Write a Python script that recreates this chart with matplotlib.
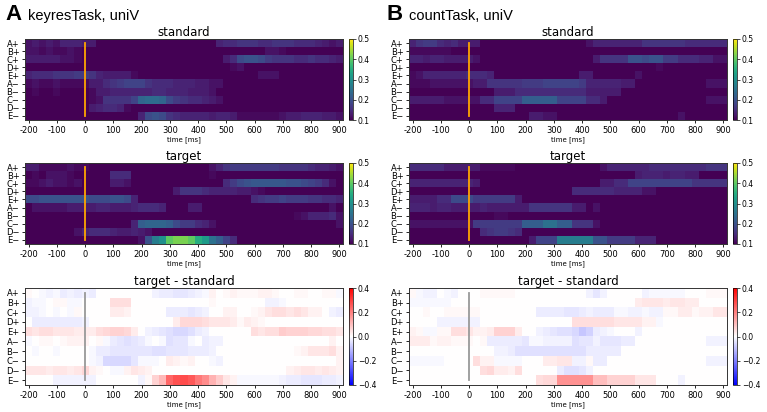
import numpy as np
import matplotlib
matplotlib.use("Agg")
import matplotlib.pyplot as plt

# conditions (rows) and time bins (25 ms, centres -200..900)
conds = ["A+", "B+", "C+", "D+", "E+", "A\u2212", "B\u2212", "C\u2212", "D\u2212", "E\u2212"]
t_first, t_last, t_step = -200, 900, 25

# mean values per condition and time bin, in hundredths
# (values under 10 look identical in the viridis maps, but show in the difference maps)
std_A = [
    [12,13,12,13,12,14,14,14,13,13, 10,10,10,10,10,10,10,10,10,10, 10,10,10,10,10,10,10,14,15,15, 16,16,16,15,15,16,16,16,15,15, 15,14,13,12,13],
    [12,12,11,12,11,11,12,11,10,10, 10,10,10,10,10,10,10,10,10,10, 10,10,10,10,10,10,10,10,10,10, 10,10,10,10,12,12,11,10,10,10, 10,10,10,10,10],
    [13,13,13,13,13,12,12,11,10,10, 10,10,10,10,10,10,10,10,10,10, 10,10,10,10,10,10,10,10,13,15, 19,20,20,19,17,16,16,16,15,15, 16,15,15,14,13],
    [10,10,10,10,10,10,10,10,10,10, 10,10,10,10,10,10,10,10,10,10, 10,10,10,10,10,10,10,10,10,11, 12,10,10,10,10,10,10,10,10,10, 10,10,10,10,10],
    [14,15,15,15,16,16,16,17,17,16, 14,13,13,13,13,11,10,10,10,10, 10,10,10,10,10,10,10,10,10,10, 10,10,10,12,12,12,10,10,10,10, 10,10,10,10,10],
    [11,12,11,11,12,11,11,11,11,13, 13,15,16,17,18,18,18,16,15,15, 15,14,14,14,13,13,12,12,10,10, 10,10,10,10,10,10,10,10,10,10, 10,10,10,10,10],
    [10,11,10,10,11,10,10,10,10,11, 13,13,14,14,14,14,14,14,15,15, 14,14,14,13,13,13,12,10,10,10, 10,10,10,10,10,10,10,10,10,10, 10,10,10,10,10],
    [10,10,10,10,10,10,10,10,10,11, 12,16,16,16,16,18,23,24,24,23, 19,17,16,15,15,14,13,12,10,10, 10,10,10,10,10,10,10,10,10,10, 10,10,10,10,10],
    [6,6,6,7,6,6,7,8,8,13, 14,15,15,14,11,10,10,10,10,10, 10,10,10,10,10,10,10,10,10,10, 10,10,10,10,10,10,10,8,7,6, 6,7,6,7,8],
    [10,10,10,10,10,10,10,10,10,10, 10,10,10,10,10,10,14,19,20,19, 16,15,14,14,14,14,13,14,14,13, 11,11,11,11,11,11,12,13,13,14, 14,14,13,13,12],
]
tgt_A = [
    [13,13,11,11,11,11,12,11,11,10, 10,10,10,10,10,10,10,10,8,7, 7,6,6,7,8,9,12,14,16,17, 17,17,17,17,17,17,16,16,16,16, 15,14,14,13,12],
    [10,11,10,12,12,12,11,10,10,10, 10,10,15,15,15,10,10,10,10,10, 10,10,10,10,10,10,11,10,10,10, 10,10,10,10,10,10,10,10,10,10, 10,10,10,10,10],
    [11,11,12,13,12,12,11,12,10,10, 10,10,13,13,12,10,10,10,10,10, 7,7,7,6,7,8,10,10,15,17, 19,20,21,21,21,21,21,20,20,19, 18,17,15,12,10],
    [10,7,7,7,7,7,7,7,8,10, 10,10,10,10,10,10,10,10,10,10, 10,13,16,16,16,15,14,14,14,14, 13,13,12,11,10,10,10,10,10,10, 10,10,10,10,10],
    [19,19,20,20,20,20,20,20,20,19, 19,19,20,20,19,14,10,8,7,6, 5,4,4,5,7,8,10,10,10,10, 10,10,15,16,17,17,18,17,17,17, 16,16,15,15,14],
    [10,12,12,12,12,12,13,13,13,13, 14,14,13,13,13,14,15,15,15,14, 10,10,10,13,13,10,10,10,10,10, 10,10,10,10,10,10,10,10,10,10, 10,10,10,12,10],
    [10,10,10,10,10,10,10,10,10,10, 10,10,10,10,10,10,10,10,10,10, 10,10,10,10,10,10,10,10,10,10, 10,10,10,10,10,10,10,10,11,12, 14,14,14,15,12],
    [10,10,10,10,10,10,10,10,10,10, 10,10,10,10,10,14,22,23,23,23, 22,19,17,17,15,14,12,10,10,10, 10,10,10,10,10,10,10,10,10,10, 10,10,10,10,12],
    [10,10,10,10,10,10,10,12,14,15, 15,15,14,13,13,14,13,12,10,10, 10,10,10,10,10,10,10,10,10,10, 10,10,10,10,10,10,10,10,10,10, 10,10,10,10,10],
    [10,10,10,10,8,8,8,8,8,8, 10,10,10,10,10,10,12,20,27,30, 40,42,42,40,35,32,25,22,18,15, 10,10,10,10,10,10,10,10,10,10, 10,10,10,10,10],
]
std_B = [
    [14,16,17,17,15,14,15,13,13,13, 10,10,10,10,10,10,10,10,10,10, 10,10,10,10,10,12,14,14,14,14, 14,14,14,16,16,16,16,16,16,15, 15,15,15,15,15],
    [11,11,11,11,11,11,10,10,10,10, 10,10,10,10,10,10,10,10,10,10, 10,10,10,10,10,10,10,10,10,10, 10,10,10,10,10,10,10,10,10,10, 10,10,10,10,10],
    [14,14,13,14,14,13,13,13,13,12, 10,10,10,10,10,10,10,10,10,10, 10,10,10,10,10,10,13,16,16,16, 16,20,20,19,20,20,17,17,15,15, 15,14,14,12,12],
    [10,10,10,10,10,10,10,10,10,10, 10,10,10,10,10,10,10,10,10,10, 10,10,10,10,10,10,10,10,10,10, 10,10,10,10,10,11,10,10,10,10, 10,10,10,10,10],
    [11,12,14,14,14,14,14,14,15,15, 15,14,10,10,10,10,10,10,10,10, 10,10,10,10,13,13,10,10,10,10, 10,10,12,10,10,10,10,10,10,10, 10,10,10,10,10],
    [11,11,11,12,12,12,12,12,12,13, 13,16,16,16,16,16,17,17,17,18, 18,18,18,18,17,14,14,14,14,14, 13,13,10,10,10,10,10,10,10,10, 10,10,12,12,12],
    [10,10,10,10,10,10,10,10,10,10, 10,10,13,13,13,15,15,15,15,15, 15,15,15,15,15,13,13,13,13,13, 10,10,10,10,10,10,10,10,10,10, 10,10,10,10,10],
    [13,13,13,13,13,12,12,12,12,12, 15,15,18,18,18,18,22,22,22,22, 22,18,18,18,18,15,15,13,10,10, 10,10,10,10,10,10,10,10,10,10, 10,10,12,12,12],
    [10,10,10,10,10,10,10,10,10,10, 10,10,14,14,14,10,10,10,10,10, 10,10,10,10,10,10,10,10,10,10, 10,10,10,10,10,10,10,10,10,10, 10,10,10,10,10],
    [10,10,10,10,10,10,10,10,10,10, 10,10,10,10,10,10,10,13,13,12, 12,10,10,10,10,10,10,10,10,10, 10,10,10,10,10,10,10,10,12,10, 10,10,10,10,10],
]
tgt_B = [
    [15,15,15,15,15,13,13,13,13,13, 11,11,11,11,11,10,10,10,10,10, 10,10,10,10,10,10,10,12,14,14, 14,14,14,14,15,15,15,15,15,15, 15,15,16,16,16],
    [10,10,10,10,10,10,10,10,10,10, 10,10,10,10,10,10,10,10,10,10, 10,10,10,10,10,10,10,10,10,10, 10,10,13,14,14,14,13,14,14,13, 13,10,10,10,10],
    [14,14,14,14,14,14,14,14,14,13, 10,10,10,10,10,10,10,10,7,7, 7,7,6,6,7,8,10,13,13,15, 15,18,18,18,18,18,18,18,18,18, 16,16,16,16,16],
    [10,10,10,10,8,8,8,8,8,8, 10,10,10,10,10,10,10,10,10,10, 10,10,10,15,15,15,15,15,15,14, 14,14,14,12,12,10,10,10,10,10, 10,10,10,10,10],
    [13,13,13,13,15,15,19,19,19,17, 17,17,17,17,17,13,10,10,8,7, 6,5,5,4,4,6,7,8,9,10, 10,10,10,10,10,10,10,10,10,10, 10,10,10,10,10],
    [14,14,14,13,14,14,13,13,13,13, 14,13,13,13,13,13,13,16,16,16, 16,16,16,13,13,10,12,10,10,10, 10,10,10,10,10,10,10,10,10,10, 10,10,10,10,10],
    [10,10,10,10,10,10,10,10,10,10, 10,10,11,11,10,10,10,10,10,10, 10,10,10,10,10,10,10,10,10,10, 10,10,10,10,10,10,10,10,10,10, 10,10,10,10,10],
    [12,12,12,12,12,12,12,12,12,17, 17,17,17,17,17,17,22,22,22,25, 25,22,22,16,16,16,12,10,10,10, 10,10,10,10,10,10,10,10,10,10, 10,10,10,10,10],
    [10,10,10,10,10,10,10,10,10,10, 15,16,17,17,16,15,10,10,10,10, 10,7,5,5,6,8,10,10,10,10, 10,10,10,10,10,10,10,10,10,10, 10,10,10,10,10],
    [10,10,10,10,10,10,10,10,10,10, 10,10,10,10,10,10,10,13,18,18, 18,27,27,27,27,27,20,20,17,17, 17,17,14,14,14,10,10,10,10,10, 10,10,10,10,10],
]

tasks = ["keyresTask, uniV", "countTask, uniV"]
letters = ["A", "B"]

W, H = 767, 412
fig = plt.figure(figsize=(W / 100, H / 100), dpi=100)

col_left = [25, 409]
ax_w = 318
cb_left = [349, 733]
rows_px = [(39, 120), (163, 244), (288, 385)]
extent = [t_first - t_step / 2, t_last + t_step / 2, len(conds) - 0.5, -0.5]


def add_axes(x0, w, top, bottom):
    return fig.add_axes([x0 / W, 1 - bottom / H, w / W, (bottom - top) / H])


for c, (std, tgt) in enumerate([(std_A, tgt_A), (std_B, tgt_B)]):
    std = np.array(std) / 100
    tgt = np.array(tgt) / 100
    panels = [("standard", std, "viridis", 0.1, 0.5, "orange"),
              ("target", tgt, "viridis", 0.1, 0.5, "orange"),
              ("target - standard", tgt - std, "bwr", -0.4, 0.4, "#999999")]
    for r, (title, data, cmap, vmin, vmax, lc) in enumerate(panels):
        top, bottom = rows_px[r]
        ax = add_axes(col_left[c], ax_w, top, bottom)
        im = ax.imshow(data, aspect="auto", cmap=cmap, vmin=vmin, vmax=vmax,
                       extent=extent, interpolation="nearest")
        ax.plot([0, 0], [0, len(conds) - 1], color=lc, lw=1.3)
        ax.set_xlim(extent[0], extent[1])
        ax.set_ylim(extent[2], extent[3])
        ax.set_xticks(np.arange(-200, 901, 100))
        ax.set_xticklabels([str(v) for v in range(-200, 901, 100)])
        ax.set_yticks(range(len(conds)))
        ax.set_yticklabels(conds)
        ax.tick_params(labelsize=6, length=2.5, width=0.6, pad=1.5)
        for sp in ax.spines.values():
            sp.set_linewidth(0.7)
            sp.set_color("#333333")
        ax.set_title(title, fontsize=8.5, pad=2)
        ax.set_xlabel("time [ms]", fontsize=5, labelpad=1)

        cax = add_axes(cb_left[c], 4, top, bottom)
        cb = fig.colorbar(im, cax=cax)
        if cmap == "bwr":
            cb.set_ticks([-0.4, -0.2, 0.0, 0.2, 0.4])
        else:
            cb.set_ticks([0.1, 0.2, 0.3, 0.4, 0.5])
        cb.ax.tick_params(labelsize=5.5, length=2, width=0.5, pad=1.5)
        cb.outline.set_linewidth(0.5)

    x0 = 5 if c == 0 else 386
    fig.text(x0 / W, 1 - 20 / H, letters[c], fontsize=16, fontweight="bold",
             family="Liberation Sans", va="baseline")
    fig.text((x0 + 23) / W, 1 - 20 / H, tasks[c], fontsize=10.5,
             family="Liberation Sans", va="baseline")

fig.savefig("out.png", dpi=100)
